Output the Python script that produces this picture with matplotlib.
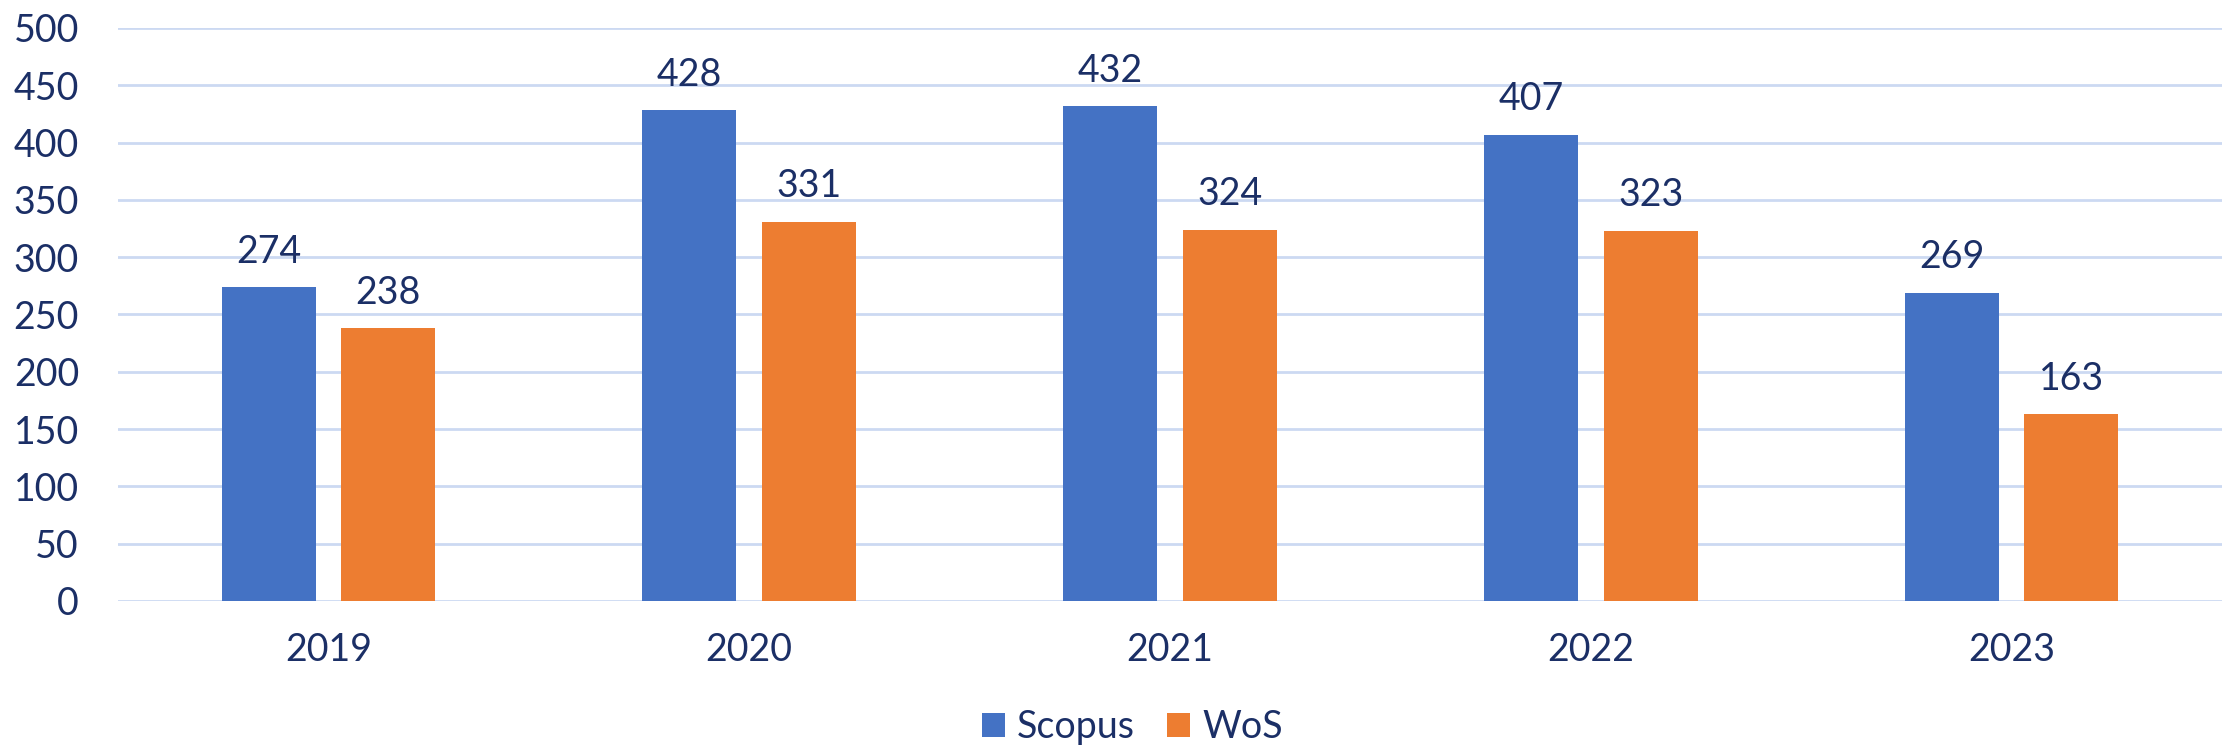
import matplotlib
matplotlib.use("Agg")
import matplotlib.pyplot as plt
import numpy as np

years = ["2019", "2020", "2021", "2022", "2023"]
scopus = [274, 428, 432, 407, 269]
wos = [238, 331, 324, 323, 163]

BLUE = "#4472C4"
ORANGE = "#ED7D31"
TEXT = "#1B2F66"
GRID = "#CCD9F2"

plt.rcParams["font.family"] = ["Lato", "DejaVu Sans"]

fig = plt.figure(figsize=(22.33, 7.46), dpi=100)
ax = fig.add_axes([0.0528, 0.1944, 0.9423, 0.7681])

x = np.arange(len(years))
width = 0.2235
offset = 0.142

b1 = ax.bar(x - offset, scopus, width, color=BLUE, label="Scopus", zorder=3)
b2 = ax.bar(x + offset, wos, width, color=ORANGE, label="WoS", zorder=3)

for bars in (b1, b2):
    ax.bar_label(bars, padding=12.5, fontsize=27, color=TEXT)

ax.set_xlim(-0.5, len(years) - 0.5)
ax.set_ylim(0, 500)
ax.set_yticks(range(0, 501, 50))
ax.set_xticks(x)
ax.set_xticklabels(years)
ax.tick_params(axis="both", length=0, labelsize=27, labelcolor=TEXT)
ax.tick_params(axis="y", pad=28)
ax.tick_params(axis="x", pad=22)
ax.yaxis.grid(True, color=GRID, linewidth=2, zorder=0)
ax.set_axisbelow(True)
for s in ax.spines.values():
    s.set_visible(False)

fig.legend(handles=[b1, b2], loc="center", bbox_to_anchor=(0.507, 0.025),
           ncol=2, frameon=False, fontsize=27, labelcolor=TEXT,
           handlelength=0.62, handleheight=0.62, handletextpad=0.32,
           columnspacing=0.85)

fig.savefig("out.png", dpi=100)
